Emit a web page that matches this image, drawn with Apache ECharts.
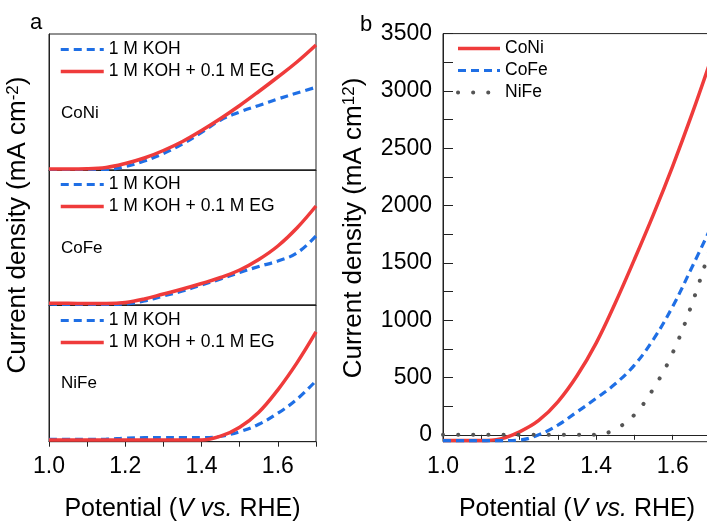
<!DOCTYPE html>
<html>
<head>
<meta charset="utf-8">
<script src="https://cdn.jsdelivr.net/npm/echarts@6/dist/echarts.min.js"></script>
<style>
  html, body { margin: 0; padding: 0; background: #fff; }
  #chart { width: 707px; height: 521px; }
</style>
</head>
<body>
<div id="chart"></div>
<script>
// potential (V vs. RHE)
const potential = [1.00, 1.05, 1.10, 1.15, 1.20, 1.25, 1.30, 1.35, 1.40, 1.45, 1.50, 1.55, 1.60, 1.65, 1.70];

// panel a, arbitrary current units (no scale shown)
const coNiKOH = [0.5, 0.5, 0.5, 0.5, 3.5, 9, 16.5, 26, 37.5, 50, 58, 64.5, 71, 77, 82.7];
const coNiEG = [1, 1, 1.2, 2.5, 6.5, 12, 19.5, 28.5, 39.5, 51.5, 64.5, 78.5, 93, 108, 125];
const coFeKOH = [1, 0.5, 0.5, 0.5, 1, 4, 9, 14, 20, 26, 32.5, 38.5, 44, 52, 69];
const coFeEG = [1.7, 1.7, 1.5, 1.5, 2.5, 6, 11, 16, 21.5, 27.5, 35, 45.5, 59, 77, 99];
const niFeKOH = [2.3, 2.3, 2.3, 2.5, 3.5, 4, 4, 4, 4, 5.5, 10, 17.5, 28.5, 42.5, 61];
const niFeEG = [1.7, 1.7, 1.7, 1.7, 1.7, 1.7, 1.7, 1.7, 1.7, 5.5, 14.5, 29.5, 52, 79, 110];

// panel b, mA cm-2
const coNiJ = [-50, -50, -50, -35, 26, 125, 288, 515, 800, 1150, 1530, 1925, 2345, 2795, 3275];
const coFeJ = [-50, -50, -50, -50, -45, 0, 85, 200, 318, 445, 608, 835, 1120, 1460, 1810];
const niFeJ = [0, 0, 0, 0, 0, 0, 0, 0, 0, 50, 175, 405, 715, 1140, 1650];

// ticks
const xTicks = [1.0, 1.1, 1.2, 1.3, 1.4, 1.5, 1.6, 1.7];
const xLabels = [1.0, 1.2, 1.4, 1.6];
const yTicksB = [0, 250, 500, 750, 1000, 1250, 1500, 1750, 2000, 2250, 2500, 2750, 3000, 3250, 3500];
const yLabelsB = [0, 500, 1000, 1500, 2000, 2500, 3000, 3500];

const FONT = '"Liberation Sans", Arial, sans-serif';
const RED = '#ef3b3b';
const BLUE = '#1f6fe5';
const GREY = '#555555';
const AXIS = '#222';

const pair = (xs, ys) => xs.map((x, i) => [x, ys[i]]);

const myChart = echarts.init(document.getElementById('chart'), null, { renderer: 'canvas' });

const redLine = { color: RED, width: 3.5, type: 'solid' };
const blueLine = { color: BLUE, width: 3.2, type: [8, 5] };
const greyLine = { color: GREY, width: 4, type: [0.1, 15], cap: 'round' };

function lineSeries(name, data, idx, style) {
  return {
    name: name,
    type: 'line',
    xAxisIndex: idx,
    yAxisIndex: idx,
    data: data,
    symbol: 'none',
    smooth: 0.4,
    lineStyle: style,
    itemStyle: { color: style.color },
    silent: true
  };
}

function xAxisFor(idx, showLabels) {
  return {
    gridIndex: idx,
    type: 'value',
    min: 1.0,
    max: 1.7,
    axisLine: { show: true, lineStyle: { color: AXIS, width: 1 } },
    axisTick: { show: showLabels, length: 5, customValues: xTicks, lineStyle: { color: AXIS } },
    axisLabel: {
      show: showLabels,
      customValues: xLabels,
      formatter: v => v.toFixed(1),
      fontSize: 23,
      fontFamily: FONT,
      color: '#000',
      margin: 13
    },
    splitLine: { show: false },
    name: showLabels ? 'Potential ({i|V vs.} RHE)' : '',
    nameLocation: 'middle',
    nameGap: 55,
    nameTextStyle: {
      fontSize: 25,
      fontFamily: FONT,
      color: '#000',
      rich: { i: { fontSize: 25, fontFamily: FONT, fontStyle: 'italic', color: '#000' } }
    }
  };
}

function hiddenY(idx, max) {
  return {
    gridIndex: idx,
    type: 'value',
    min: 0,
    max: max,
    axisLine: { show: true, lineStyle: { color: AXIS } },
    axisTick: { show: false },
    axisLabel: { show: false },
    splitLine: { show: false }
  };
}

const legendText = { fontSize: 17.5, fontFamily: FONT, color: '#000' };

function panelLegend(top, left, width, names) {
  return {
    left: left,
    top: top,
    orient: 'vertical',
    itemWidth: width,
    itemHeight: 14,
    itemGap: 4,
    data: names,
    textStyle: legendText,
    itemStyle: { opacity: 0 },
    lineStyle: { width: 'inherit', type: 'inherit' },
    selectedMode: false
  };
}

function label(text, x, y, size) {
  return {
    type: 'text',
    x: x,
    y: y,
    style: { text: text, fill: '#000', font: size + 'px ' + FONT, align: 'left', verticalAlign: 'middle' }
  };
}

function gridBox(left, top, width, height) {
  return {
    left: left, top: top, width: width, height: height,
    show: true, borderColor: AXIS, borderWidth: 1,
    outerBoundsMode: 'none'
  };
}

const electrolytes = ['1 M KOH', '1 M KOH + 0.1 M EG'];

let option = {
  animation: false,
  backgroundColor: '#fff',
  grid: [
    gridBox(49, 34, 267, 136),
    gridBox(49, 170, 267, 135),
    gridBox(49, 305, 267, 136.7),
    gridBox(443, 33.6, 268, 408.1)
  ],
  xAxis: [xAxisFor(0, false), xAxisFor(1, false), xAxisFor(2, true), xAxisFor(3, true)],
  yAxis: [
    hiddenY(0, 136),
    hiddenY(1, 135),
    hiddenY(2, 137),
    {
      gridIndex: 3,
      type: 'value',
      min: -60,
      max: 3500,
      axisLine: { show: true, lineStyle: { color: AXIS } },
      axisTick: { show: true, inside: true, length: 10, customValues: yTicksB, lineStyle: { color: AXIS } },
      axisLabel: {
        customValues: yLabelsB,
        formatter: v => String(v),
        fontSize: 23,
        fontFamily: FONT,
        color: '#000',
        margin: 11
      },
      splitLine: { show: false }
    }
  ],
  legend: [
    panelLegend(35.5, 54, 43, electrolytes),
    panelLegend(170.5, 54, 43, electrolytes),
    panelLegend(306.5, 54, 43, electrolytes),
    panelLegend(34.5, 451, 42, ['CoNi', 'CoFe', 'NiFe'])
  ],
  graphic: [
    label('a', 30, 23, 22),
    label('b', 360, 25, 22),
    label('CoNi', 61, 113, 17),
    label('CoFe', 61, 248, 17),
    label('NiFe', 61, 383, 17),
    {
      type: 'text',
      x: 18,
      y: 225,
      rotation: Math.PI / 2,
      style: {
        text: '{a|Current density (mA cm}{s|-2}{a|)}',
        align: 'center',
        verticalAlign: 'middle',
        rich: {
          a: { fontSize: 26, fontFamily: FONT, fill: '#000' },
          s: { fontSize: 17, fontFamily: FONT, fill: '#000', verticalAlign: 'top' }
        }
      }
    },
    {
      type: 'text',
      x: 354,
      y: 228,
      rotation: Math.PI / 2,
      style: {
        text: '{a|Current density (mA cm}{s|12}{a|)}',
        align: 'center',
        verticalAlign: 'middle',
        rich: {
          a: { fontSize: 26, fontFamily: FONT, fill: '#000' },
          s: { fontSize: 17, fontFamily: FONT, fill: '#000', verticalAlign: 'top' }
        }
      }
    }
  ],
  series: [
    lineSeries('1 M KOH', pair(potential, coNiKOH), 0, blueLine),
    lineSeries('1 M KOH + 0.1 M EG', pair(potential, coNiEG), 0, redLine),
    lineSeries('1 M KOH', pair(potential, coFeKOH), 1, blueLine),
    lineSeries('1 M KOH + 0.1 M EG', pair(potential, coFeEG), 1, redLine),
    lineSeries('1 M KOH', pair(potential, niFeKOH), 2, blueLine),
    lineSeries('1 M KOH + 0.1 M EG', pair(potential, niFeEG), 2, redLine),
    lineSeries('CoNi', pair(potential, coNiJ), 3, redLine),
    lineSeries('CoFe', pair(potential, coFeJ), 3, blueLine),
    lineSeries('NiFe', pair(potential, niFeJ), 3, greyLine)
  ]
};

option && myChart.setOption(option);
</script>
</body>
</html>
